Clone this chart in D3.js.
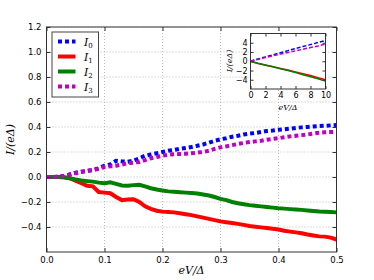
<!DOCTYPE html>
<html>
<head>
<meta charset="utf-8">
<script src="https://d3js.org/d3.v7.min.js"></script>
<style>
    body { margin: 0; background: #fff; }
    text { font-family: "DejaVu Sans", sans-serif; fill: #000; }
    .math { font-family: "DejaVu Serif", serif; font-style: italic; }
    .grid line { stroke: #aaa; stroke-dasharray: 1,2; stroke-width: 0.8; }
</style>
</head>
<body>
<svg id="canvas"></svg>
<script>
// ########## Data ##########
var voltage = [0, 0.01, 0.02, 0.03, 0.04, 0.05, 0.06, 0.07, 0.08, 0.09,
    0.10, 0.11, 0.12, 0.13, 0.14, 0.15, 0.16, 0.17, 0.18, 0.19,
    0.20, 0.21, 0.22, 0.23, 0.24, 0.25, 0.26, 0.27, 0.28, 0.29,
    0.30, 0.31, 0.32, 0.33, 0.34, 0.35, 0.36, 0.37, 0.38, 0.39,
    0.40, 0.41, 0.42, 0.43, 0.44, 0.45, 0.46, 0.47, 0.48, 0.49, 0.50];

var I0 = [0, 0, 0.002, 0.008, 0.02, 0.035, 0.042, 0.05, 0.056, 0.07,
    0.09, 0.1, 0.13, 0.125, 0.122, 0.13, 0.15, 0.17, 0.18, 0.19,
    0.2, 0.21, 0.216, 0.225, 0.232, 0.24, 0.25, 0.26, 0.275, 0.29,
    0.302, 0.31, 0.322, 0.33, 0.34, 0.347, 0.352, 0.36, 0.368, 0.372,
    0.378, 0.382, 0.387, 0.393, 0.397, 0.4, 0.404, 0.408, 0.41, 0.413, 0.416];

var I1 = [0, 0, 0, -0.003, -0.01, -0.03, -0.05, -0.07, -0.075, -0.12,
    -0.125, -0.13, -0.16, -0.185, -0.18, -0.178, -0.2, -0.235, -0.255, -0.27,
    -0.277, -0.28, -0.283, -0.29, -0.298, -0.305, -0.315, -0.325, -0.335, -0.345,
    -0.355, -0.362, -0.368, -0.375, -0.383, -0.392, -0.398, -0.403, -0.408, -0.414,
    -0.42, -0.43, -0.437, -0.443, -0.45, -0.46, -0.468, -0.475, -0.477, -0.485, -0.5];

var I2 = [0, 0, 0, -0.002, -0.01, -0.02, -0.028, -0.033, -0.037, -0.045,
    -0.05, -0.043, -0.055, -0.068, -0.07, -0.065, -0.063, -0.075, -0.09, -0.1,
    -0.108, -0.115, -0.118, -0.122, -0.125, -0.128, -0.132, -0.14, -0.148, -0.16,
    -0.175, -0.185, -0.2, -0.21, -0.218, -0.225, -0.23, -0.235, -0.24, -0.245,
    -0.25, -0.253, -0.257, -0.26, -0.263, -0.268, -0.272, -0.276, -0.278, -0.28, -0.283];

var I3 = [0, 0, 0.002, 0.008, 0.02, 0.03, 0.04, 0.05, 0.056, 0.065,
    0.08, 0.085, 0.09, 0.1, 0.11, 0.115, 0.12, 0.135, 0.15, 0.16,
    0.17, 0.178, 0.182, 0.184, 0.186, 0.19, 0.195, 0.2, 0.21, 0.225,
    0.237, 0.245, 0.255, 0.264, 0.272, 0.28, 0.285, 0.29, 0.298, 0.305,
    0.31, 0.318, 0.325, 0.33, 0.335, 0.34, 0.347, 0.354, 0.358, 0.36, 0.362];

// inset: wide voltage range
var insetVoltage = [0, 1, 2, 3, 4, 5, 6, 7, 8, 9, 10];
var insetI0 = [0, 0.5, 0.95, 1.4, 1.85, 2.3, 2.75, 3.2, 3.6, 4.05, 4.5];
var insetI1 = [0, -0.5, -0.85, -1.2, -1.55, -1.9, -2.3, -2.7, -3.1, -3.55, -4.0];
var insetI2 = [0, -0.45, -0.8, -1.2, -1.6, -2.0, -2.45, -2.9, -3.35, -3.8, -4.3];
var insetI3 = [0, 0.4, 0.8, 1.2, 1.55, 1.9, 2.25, 2.6, 2.95, 3.3, 3.7];

var xTicks = [0, 0.1, 0.2, 0.3, 0.4, 0.5];
var yTicks = [-0.4, -0.2, 0, 0.2, 0.4, 0.6, 0.8, 1.0, 1.2];
var insetXTicks = [0, 2, 4, 6, 8, 10];
var insetYTicks = [-4, -2, 0, 2, 4];

var series = [
    { name: "0", values: I0, inset: insetI0, color: "#0000ff", dash: "4,3" },
    { name: "1", values: I1, inset: insetI1, color: "#ff0000", dash: null },
    { name: "2", values: I2, inset: insetI2, color: "#008000", dash: null },
    { name: "3", values: I3, inset: insetI3, color: "#bf00bf", dash: "4,3" }
];

// ########## SVG ##########
var w = 374, h = 280;
var svg = d3.select("#canvas").attr("width", w).attr("height", h);

var m = { left: 46.5, right: 336.5, top: 27, bottom: 252 };
var x = d3.scaleLinear().domain([0, 0.5]).range([m.left, m.right]);
var y = d3.scaleLinear().domain([-0.6, 1.2]).range([m.bottom, m.top]);

// ########## Grid ##########
svg.append("g").attr("class", "grid")
    .selectAll("line").data(xTicks.slice(1, -1)).enter().append("line")
    .attr("x1", function (d) { return x(d); }).attr("x2", function (d) { return x(d); })
    .attr("y1", m.top).attr("y2", m.bottom);
svg.append("g").attr("class", "grid")
    .selectAll("line").data(yTicks).enter().append("line")
    .attr("y1", function (d) { return y(d); }).attr("y2", function (d) { return y(d); })
    .attr("x1", m.left).attr("x2", m.right);

// ########## Lines ##########
var line = d3.line()
    .x(function (d, i) { return x(voltage[i]); })
    .y(function (d) { return y(d); });

svg.append("g").selectAll("path")
    .data(series).enter().append("path")
    .attr("fill", "none")
    .attr("stroke", function (d) { return d.color; })
    .attr("stroke-width", 4)
    .attr("stroke-dasharray", function (d) { return d.dash; })
    .attr("d", function (d) { return line(d.values); });

// ########## Axes ##########
function axes(g, xs, ys, xt, yt, xf, yf, fs, tl, pad) {
    var r = xs.range(), b = ys.range();
    g.append("g").attr("transform", "translate(0," + b[0] + ")")
        .call(d3.axisBottom(xs).tickValues(xt).tickFormat(xf).tickSizeInner(-tl).tickSizeOuter(0).tickPadding(pad));
    g.append("g").attr("transform", "translate(0," + b[1] + ")")
        .call(d3.axisTop(xs).tickValues(xt).tickFormat("").tickSizeInner(-tl).tickSizeOuter(0));
    g.append("g").attr("transform", "translate(" + r[0] + ",0)")
        .call(d3.axisLeft(ys).tickValues(yt).tickFormat(yf).tickSizeInner(-tl).tickSizeOuter(0).tickPadding(pad));
    g.append("g").attr("transform", "translate(" + r[1] + ",0)")
        .call(d3.axisRight(ys).tickValues(yt).tickFormat("").tickSizeInner(-tl).tickSizeOuter(0));
    g.selectAll(".domain").remove();
    g.selectAll(".tick line").attr("stroke", "#333");
    g.selectAll(".tick text").attr("font-family", "DejaVu Sans").attr("font-size", fs).attr("fill", "#000");
    g.append("rect")
        .attr("x", r[0]).attr("y", b[1])
        .attr("width", r[1] - r[0]).attr("height", b[0] - b[1])
        .attr("fill", "none").attr("stroke", "#333").attr("stroke-width", 1);
}

var minus = function (f) { return function (d) { return f(d).replace("-", "\u2212"); }; };
axes(svg.append("g"), x, y, xTicks, yTicks, minus(d3.format(".1f")), minus(d3.format(".1f")), "8.5px", 4, 5);

// ########## Axis labels ##########
svg.append("text").attr("class", "math")
    .attr("x", (m.left + m.right) / 2).attr("y", 274)
    .attr("text-anchor", "middle").attr("font-size", "11px")
    .text("eV/\u0394");
svg.append("text").attr("class", "math")
    .attr("transform", "translate(14," + ((m.top + m.bottom) / 2) + ") rotate(-90)")
    .attr("text-anchor", "middle").attr("font-size", "11px")
    .text("I/(e\u0394)");

// ########## Legend ##########
var legend = svg.append("g");
legend.append("rect")
    .attr("x", 52).attr("y", 32).attr("width", 46.5).attr("height", 65)
    .attr("fill", "#fff").attr("stroke", "#444").attr("stroke-width", 1);
var item = legend.selectAll(".item").data(series).enter().append("g")
    .attr("transform", function (d, i) { return "translate(0," + (41.5 + i * 15) + ")"; });
item.append("line")
    .attr("x1", 58).attr("x2", 75.5).attr("y1", 0).attr("y2", 0)
    .attr("stroke", function (d) { return d.color; })
    .attr("stroke-width", 4)
    .attr("stroke-dasharray", function (d) { return d.dash; });
var lt = item.append("text").attr("class", "math")
    .attr("x", 84).attr("y", 4).attr("font-size", "11px");
lt.append("tspan").text("I");
lt.append("tspan").attr("font-size", "7px").attr("font-style", "normal")
    .attr("dy", 2.5).text(function (d) { return d.name; });

// ########## Inset ##########
var ix = d3.scaleLinear().domain([0, 10]).range([250.5, 325.5]);
var iy = d3.scaleLinear().domain([-6, 6]).range([89, 33.5]);
var inset = svg.append("g");
inset.append("rect")
    .attr("x", 250.5).attr("y", 33.5).attr("width", 75).attr("height", 55.5)
    .attr("fill", "#fff");

var iline = d3.line()
    .x(function (d, i) { return ix(insetVoltage[i]); })
    .y(function (d) { return iy(d); });
inset.append("g").selectAll("path")
    .data(series).enter().append("path")
    .attr("fill", "none")
    .attr("stroke", function (d) { return d.color; })
    .attr("stroke-width", 1.5)
    .attr("stroke-dasharray", function (d) { return d.dash ? "4,2" : null; })
    .attr("d", function (d) { return iline(d.inset); });

axes(inset, ix, iy, insetXTicks, insetYTicks, d3.format("d"), minus(d3.format("d")), "8px", 3, 3);

inset.append("text").attr("class", "math")
    .attr("x", 288).attr("y", 110)
    .attr("text-anchor", "middle").attr("font-size", "8px")
    .text("eV/\u0394");
inset.append("text").attr("class", "math")
    .attr("transform", "translate(232,61) rotate(-90)")
    .attr("text-anchor", "middle").attr("font-size", "8px")
    .text("I/(e\u0394)");
</script>
</body>
</html>
